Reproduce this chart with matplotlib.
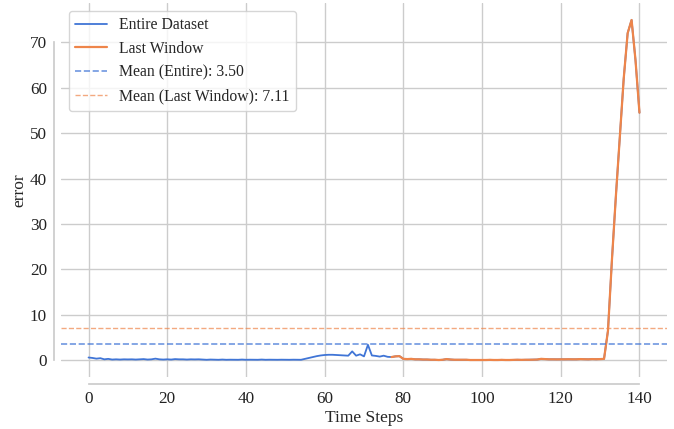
import matplotlib
matplotlib.use("Agg")
import matplotlib.pyplot as plt
import seaborn as sns

# datos
pasos = list(range(141))
errores = [
    0.6, 0.5, 0.35, 0.45, 0.2, 0.3, 0.15, 0.2, 0.15, 0.2,
    0.18, 0.2, 0.15, 0.2, 0.25, 0.15, 0.2, 0.35, 0.2, 0.15,
    0.2, 0.15, 0.25, 0.2, 0.2, 0.15, 0.2, 0.18, 0.2, 0.15,
    0.1, 0.15, 0.12, 0.1, 0.15, 0.1, 0.12, 0.1, 0.1, 0.15,
    0.1, 0.12, 0.1, 0.1, 0.15, 0.1, 0.12, 0.1, 0.1, 0.12,
    0.1, 0.1, 0.12, 0.1, 0.1, 0.3, 0.5, 0.7, 0.9, 1.05,
    1.15, 1.2, 1.2, 1.15, 1.1, 1.05, 1.0, 1.95, 1.0, 1.3,
    0.85, 3.4, 1.05, 0.95, 0.8, 1.0, 0.75, 0.7, 0.85, 0.9,
    0.3, 0.25, 0.3, 0.2, 0.2, 0.15, 0.15, 0.1, 0.1, 0.05,
    0.1, 0.25, 0.15, 0.1, 0.1, 0.1, 0.1, 0.05, 0.05, 0.05,
    0.05, 0.05, 0.08, 0.05, 0.05, 0.08, 0.05, 0.05, 0.08, 0.1,
    0.08, 0.1, 0.1, 0.12, 0.15, 0.3, 0.25, 0.2, 0.2, 0.18,
    0.2, 0.2, 0.22, 0.2, 0.2, 0.25, 0.22, 0.2, 0.25, 0.22,
    0.25, 0.3, 6.5, 22.0, 36.0, 49.0, 62.0, 72.0, 74.9, 66.0,
    54.5,
]
inicio_ventana = 77
media_total = 3.50
media_ventana = 7.11

sns.set_theme(style="whitegrid")
plt.rcParams['font.family'] = ['Liberation Serif', 'DejaVu Serif']

azul = "#4075d6"
naranja = "#ee854a"

fig = plt.figure(figsize=(6.74, 4.29), dpi=100)
ax = fig.add_axes([61 / 674, 52 / 429, 606 / 674, 374 / 429])

ax.plot(pasos, errores, color=azul, lw=1.3, label="Entire Dataset")
ax.plot(pasos[inicio_ventana:], errores[inicio_ventana:], color=naranja, lw=1.6, label="Last Window")
ax.axhline(media_total, color=azul, ls="--", lw=1.2, alpha=0.75, label=f"Mean (Entire): {media_total:.2f}")
ax.axhline(media_ventana, color=naranja, ls="--", lw=1.0, alpha=0.7, label=f"Mean (Last Window): {media_ventana:.2f}")

ax.set_xlabel("Time Steps", fontsize=12.5, labelpad=2)
ax.set_ylabel("error", fontsize=12.5, labelpad=2)
ax.tick_params(labelsize=12.3, length=0, pad=5, labelcolor="#222222")
ax.legend(loc="upper left", fontsize=11.3)

sns.despine(offset=5, trim=True)

fig.savefig("out.png", dpi=100)
